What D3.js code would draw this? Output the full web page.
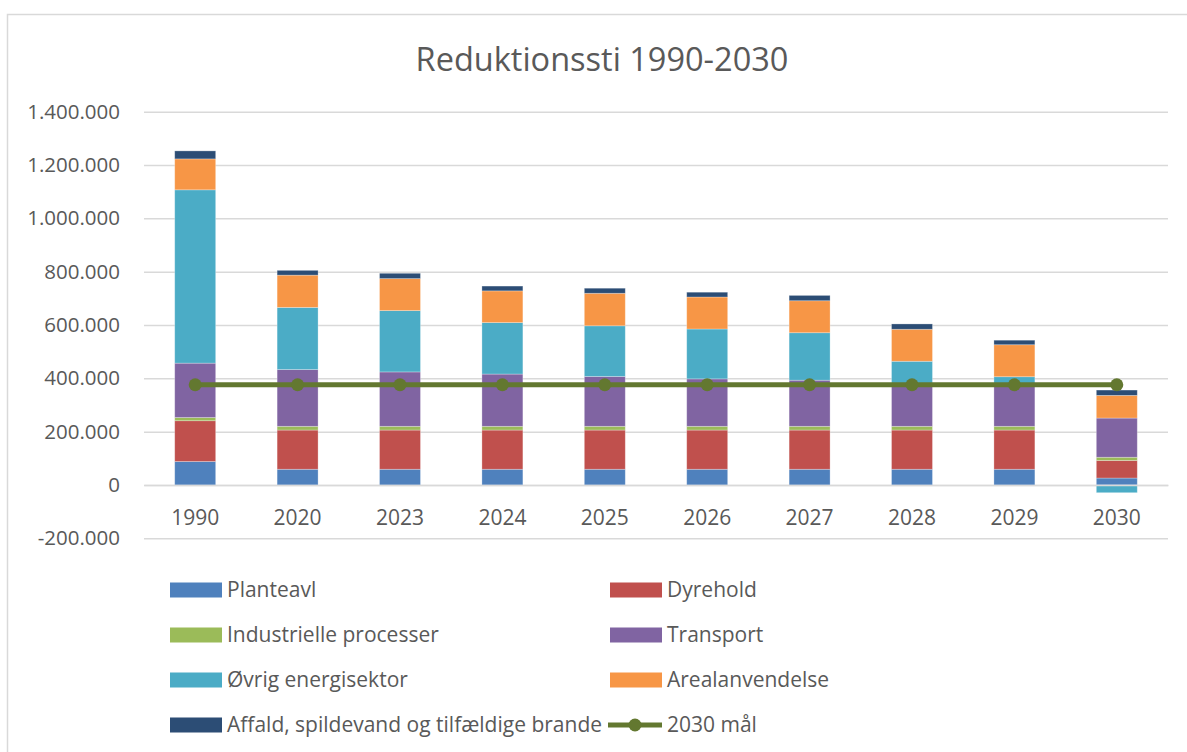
<!DOCTYPE html>
<html lang="da">
<head>
    <meta charset="UTF-8">
    <title>Reduktionssti 1990-2030</title>
    <script src="https://d3js.org/d3.v7.min.js"></script>
    <style>
        body { margin: 0; overflow: hidden; background: white; }
        svg { display: block; }
        text { font-family: "Open Sans", sans-serif; fill: #595959; }
    </style>
</head>
<body>
    <svg id="chart"></svg>

    <script>
        // Data (ton CO2e)
        const years = ["1990", "2020", "2023", "2024", "2025", "2026", "2027", "2028", "2029", "2030"];
        const planteavl       = [88000, 59000, 59000, 59000, 59000, 59000, 59000, 59000, 59000, 26000];
        const dyrehold        = [153000, 147000, 147000, 147000, 147000, 147000, 147000, 147000, 147000, 66000];
        const industrielle    = [12000, 14000, 14000, 14000, 14000, 14000, 14000, 14000, 14000, 12000];
        const transport       = [204000, 213000, 204000, 196000, 187000, 178000, 173000, 154000, 158000, 147000];
        const oevrigEnergi    = [650000, 233000, 230000, 193000, 190000, 187000, 178000, 90000, 28000, -29000];
        const arealanvendelse = [116000, 121000, 120000, 119000, 122000, 120000, 120000, 120000, 120000, 85000];
        const affald          = [30000, 18000, 20000, 18000, 19000, 18000, 20000, 20000, 17000, 20000];
        const maal2030        = [376000, 376000, 376000, 376000, 376000, 376000, 376000, 376000, 376000, 376000];
        const yTicks = [-200000, 0, 200000, 400000, 600000, 800000, 1000000, 1200000, 1400000];

        const series = [
            { key: "Planteavl", values: planteavl, color: "#4F81BD" },
            { key: "Dyrehold", values: dyrehold, color: "#C0504D" },
            { key: "Industrielle processer", values: industrielle, color: "#9BBB59" },
            { key: "Transport", values: transport, color: "#8064A2" },
            { key: "Øvrig energisektor", values: oevrigEnergi, color: "#4BACC6" },
            { key: "Arealanvendelse", values: arealanvendelse, color: "#F79646" },
            { key: "Affald, spildevand og tilfældige brande", values: affald, color: "#2C4D75" }
        ];
        const lineColor = "#637830";

        const width = 1187;
        const height = 752;

        const svg = d3.select("#chart")
            .attr("width", width)
            .attr("height", height);

        // Ramme om diagrammet
        svg.append("rect")
            .attr("x", 7.5).attr("y", 14.5)
            .attr("width", width).attr("height", height)
            .attr("fill", "white")
            .attr("stroke", "#d9d9d9")
            .attr("stroke-width", 1.5);

        // Tabel til stack
        const table = years.map((y, i) => {
            const row = { year: y };
            series.forEach(s => row[s.key] = s.values[i]);
            return row;
        });

        const stacked = d3.stack()
            .keys(series.map(s => s.key))
            .offset(d3.stackOffsetDiverging)(table);

        const x = d3.scaleBand()
            .domain(years)
            .range([144, 1168])
            .paddingInner(0.6)
            .paddingOuter(0.3);

        const y = d3.scaleLinear()
            .domain([-200000, 1400000])
            .range([538.3, 111.7]);

        // dansk talformat, almindelig bindestreg som minus
        const fmt = d3.formatLocale({ decimal: ",", thousands: ".", grouping: [3], currency: ["", " kr."], minus: "-" }).format(",.0f");

        // Gitterlinjer og y-akse
        const yAxis = svg.append("g")
            .attr("transform", "translate(144,0)")
            .call(d3.axisLeft(y).tickValues(yTicks).tickFormat(fmt).tickSize(-1024).tickPadding(24));
        yAxis.select(".domain").remove();
        yAxis.selectAll(".tick line").attr("stroke", "#d9d9d9").attr("stroke-width", 1.5);
        yAxis.selectAll(".tick text")
            .attr("font-size", 20.5)
            .attr("font-family", "Open Sans, sans-serif")
            .attr("fill", "#595959");

        // Søjler
        svg.append("g")
            .selectAll("g")
            .data(stacked)
            .join("g")
            .attr("fill", (d, i) => series[i].color)
            .selectAll("rect")
            .data(d => d)
            .join("rect")
            .attr("x", d => x(d.data.year))
            .attr("y", d => y(Math.max(d[0], d[1])))
            .attr("width", x.bandwidth())
            .attr("height", d => Math.abs(y(d[0]) - y(d[1])))
            .attr("stroke", "white")
            .attr("stroke-opacity", 0.35)
            .attr("stroke-width", 0.8);

        // x-akse (nul-linje)
        const xAxis = svg.append("g")
            .attr("transform", `translate(0,${y(0)})`)
            .call(d3.axisBottom(x).tickSize(0).tickPadding(0));
        xAxis.select(".domain").attr("stroke", "#d9d9d9").attr("stroke-width", 1.5);
        xAxis.selectAll(".tick text")
            .attr("y", 40)
            .attr("dy", 0)
            .attr("font-size", 21)
            .attr("font-family", "Open Sans, sans-serif")
            .attr("fill", "#595959");

        // 2030 mål linje
        const line = d3.line()
            .x((d, i) => x(years[i]) + x.bandwidth() / 2)
            .y(d => y(d));
        svg.append("path")
            .datum(maal2030)
            .attr("d", line)
            .attr("fill", "none")
            .attr("stroke", lineColor)
            .attr("stroke-width", 5);
        svg.append("g")
            .selectAll("circle")
            .data(maal2030)
            .join("circle")
            .attr("cx", (d, i) => x(years[i]) + x.bandwidth() / 2)
            .attr("cy", d => y(d))
            .attr("r", 6.5)
            .attr("fill", lineColor);

        // Titel
        svg.append("text")
            .attr("x", 602)
            .attr("y", 71)
            .attr("text-anchor", "middle")
            .attr("font-size", 32.5)
            .text("Reduktionssti 1990-2030");

        // Legende
        const legendItems = series.map(s => ({ key: s.key, color: s.color, type: "bar" }))
            .concat([{ key: "2030 mål", color: lineColor, type: "line" }]);
        const legend = svg.append("g")
            .selectAll("g")
            .data(legendItems)
            .join("g")
            .attr("transform", (d, i) => `translate(${i % 2 === 0 ? 170 : 610},${590 + Math.floor(i / 2) * 45})`);

        legend.filter(d => d.type === "bar")
            .append("rect")
            .attr("x", 0).attr("y", -7.5)
            .attr("width", 52).attr("height", 15)
            .attr("fill", d => d.color);
        legend.filter(d => d.type === "line")
            .append("line")
            .attr("x1", -2).attr("x2", 52)
            .attr("stroke", d => d.color)
            .attr("stroke-width", 5);
        legend.filter(d => d.type === "line")
            .append("circle")
            .attr("cx", 25).attr("r", 6.5)
            .attr("fill", d => d.color);
        legend.append("text")
            .attr("x", 57)
            .attr("dy", "0.35em")
            .attr("font-size", 21)
            .text(d => d.key);
    </script>
</body>
</html>
